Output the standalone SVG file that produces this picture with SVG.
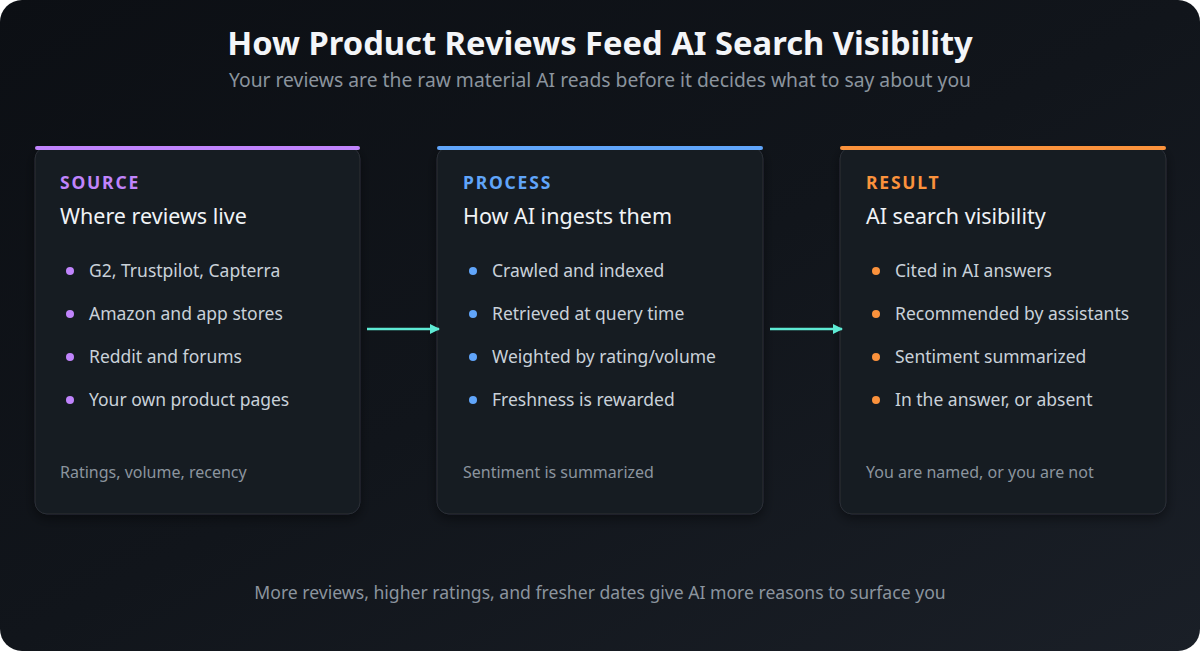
<svg xmlns="http://www.w3.org/2000/svg" width="1200" height="651" viewBox="0 0 1200 651">
<defs>
<linearGradient id="bg" x1="0" y1="0" x2="1" y2="1">
<stop offset="0" stop-color="#0c0f14"/>
<stop offset="0.5" stop-color="#11151b"/>
<stop offset="1" stop-color="#1a1f27"/>
</linearGradient>
<filter id="sh" x="-10%" y="-10%" width="120%" height="125%">
<feDropShadow dx="0" dy="4" stdDeviation="6" flood-color="#000" flood-opacity="0.45"/>
</filter>
<marker id="ah" viewBox="0 0 10 10" refX="9" refY="5" markerWidth="10" markerHeight="10" markerUnits="userSpaceOnUse" orient="auto">
<path d="M0,0 L10,5 L0,10 z" fill="#5eead4"/>
</marker>
<style>
text{font-family:"Noto Sans","Open Sans","DejaVu Sans",sans-serif}
.title{font-size:32.7px;font-weight:700;fill:#f3f5f8}
.sub{font-size:19.3px;fill:#8b949e}
.bot{font-size:17.6px;fill:#8b949e}
.card{fill:#191d23;stroke:#2a2f37;stroke-width:1}
.lab{font-size:17.5px;font-weight:700;letter-spacing:1.8px}
.head{font-size:21.5px;fill:#f0f3f6}
.item{font-size:17.5px;fill:#c9d1d9}
.foot{font-size:16px;fill:#8b949e}
.conn{stroke:#5eead4;stroke-width:2.5;fill:none}
</style>
</defs>
<rect x="0" y="0" width="1200" height="651" fill="#ffffff"/>
<rect x="0" y="0" width="1200" height="651" rx="22" fill="url(#bg)"/>
<text class="title" x="600" y="55" text-anchor="middle">How Product Reviews Feed AI Search Visibility</text>
<text class="sub" x="600" y="87" text-anchor="middle">Your reviews are the raw material AI reads before it decides what to say about you</text>

<g id="source">
<rect class="card" x="35" y="147" width="325" height="367" rx="12" filter="url(#sh)"/>
<rect x="35" y="146" width="325" height="4" rx="2" fill="#c084fc"/>
<text class="lab" x="60" y="189" fill="#c084fc">SOURCE</text>
<text class="head" x="60" y="224">Where reviews live</text>
<g fill="#c084fc"><circle cx="70" cy="271" r="4"/><circle cx="70" cy="314" r="4"/><circle cx="70" cy="357" r="4"/><circle cx="70" cy="400" r="4"/></g>
<text class="item" x="89" y="277">G2, Trustpilot, Capterra</text>
<text class="item" x="89" y="320">Amazon and app stores</text>
<text class="item" x="89" y="363">Reddit and forums</text>
<text class="item" x="89" y="406">Your own product pages</text>
<text class="foot" x="60" y="478">Ratings, volume, recency</text>
</g>

<g id="process">
<rect class="card" x="437" y="147" width="326" height="367" rx="12" filter="url(#sh)"/>
<rect x="437" y="146" width="326" height="4" rx="2" fill="#60a5fa"/>
<text class="lab" x="463" y="189" fill="#60a5fa">PROCESS</text>
<text class="head" x="463" y="224">How AI ingests them</text>
<g fill="#60a5fa"><circle cx="473" cy="271" r="4"/><circle cx="473" cy="314" r="4"/><circle cx="473" cy="357" r="4"/><circle cx="473" cy="400" r="4"/></g>
<text class="item" x="492" y="277">Crawled and indexed</text>
<text class="item" x="492" y="320">Retrieved at query time</text>
<text class="item" x="492" y="363">Weighted by rating/volume</text>
<text class="item" x="492" y="406">Freshness is rewarded</text>
<text class="foot" x="463" y="478">Sentiment is summarized</text>
</g>

<g id="result">
<rect class="card" x="840" y="147" width="326" height="367" rx="12" filter="url(#sh)"/>
<rect x="840" y="146" width="326" height="4" rx="2" fill="#fb923c"/>
<text class="lab" x="866" y="189" fill="#fb923c">RESULT</text>
<text class="head" x="866" y="224">AI search visibility</text>
<g fill="#fb923c"><circle cx="876" cy="271" r="4"/><circle cx="876" cy="314" r="4"/><circle cx="876" cy="357" r="4"/><circle cx="876" cy="400" r="4"/></g>
<text class="item" x="895" y="277">Cited in AI answers</text>
<text class="item" x="895" y="320">Recommended by assistants</text>
<text class="item" x="895" y="363">Sentiment summarized</text>
<text class="item" x="895" y="406">In the answer, or absent</text>
<text class="foot" x="866" y="478">You are named, or you are not</text>
</g>

<g id="connectors">
<line class="conn" x1="367" y1="329" x2="439" y2="329" marker-end="url(#ah)"/>
<line class="conn" x1="770" y1="329" x2="842" y2="329" marker-end="url(#ah)"/>
</g>

<text class="bot" x="600" y="599" text-anchor="middle">More reviews, higher ratings, and fresher dates give AI more reasons to surface you</text>
</svg>
